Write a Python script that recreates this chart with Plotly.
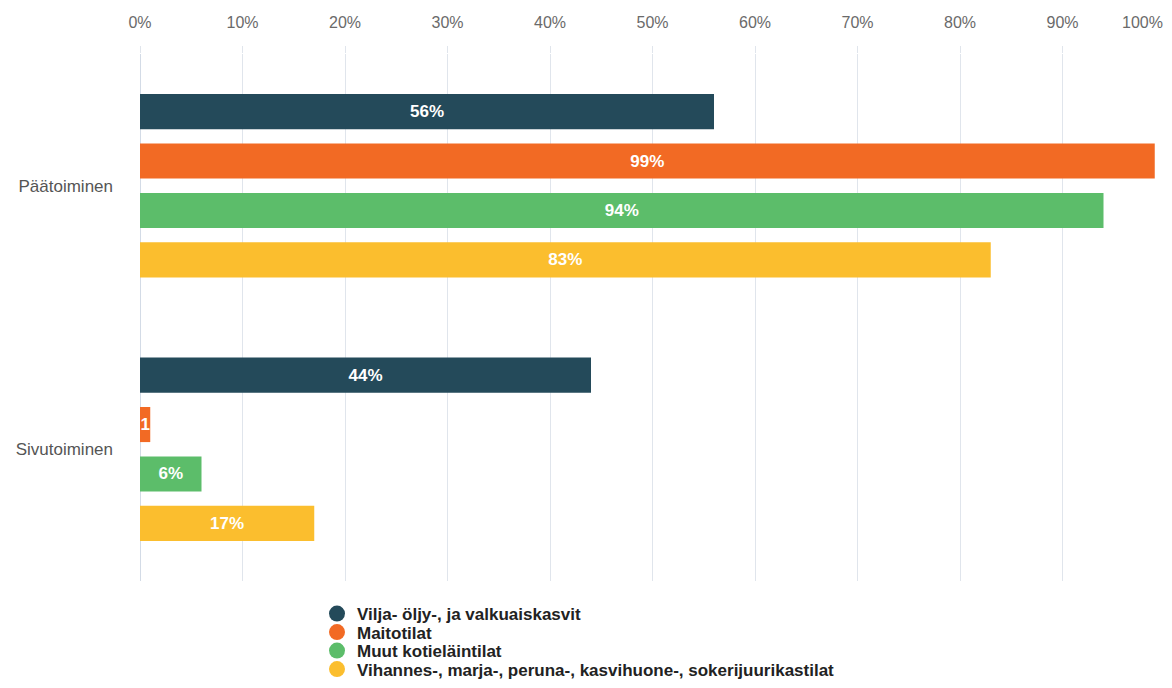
import plotly.graph_objects as go

categories = ["Päätoiminen", "Sivutoiminen"]
series_names = [
    "Vilja- öljy-, ja valkuaiskasvit",
    "Maitotilat",
    "Muut kotieläintilat",
    "Vihannes-, marja-, peruna-, kasvihuone-, sokerijuurikastilat",
]
values = [
    [56, 44],
    [99, 1],
    [94, 6],
    [83, 17],
]
colors = ["#244a5a", "#f26a24", "#5cbd6a", "#fbbe2e"]
tick_vals = [0, 10, 20, 30, 40, 50, 60, 70, 80, 90, 100]
tick_text = [f"{v}%" for v in tick_vals]

# page body adds an 8px offset; figure is sized to fit the window
W, H = 1164, 680
L, T = 132, 46
PW, PH = 1025, 527
PLOT_BOTTOM_IMG = 8 + T + PH  # 581

fig = go.Figure()
for name, vals, col in zip(series_names, values, colors):
    # the narrowest bar only has room for its number
    labels = [f"{v}%" if v >= 3 else f"{v}" for v in vals]
    fig.add_trace(go.Bar(
        y=categories, x=vals, orientation="h", name=name,
        marker=dict(color=col, line=dict(width=0)),
        text=labels, textposition="inside", textangle=0,
        insidetextanchor="middle", constraintext="none",
        textfont=dict(color="white", size=17, family="Liberation Sans", weight="bold"),
        showlegend=False, hoverinfo="skip",
    ))

legend_rows = [614, 632.5, 651, 669.5]
legend_layouts = {}
for i, (name, col, ypix) in enumerate(zip(series_names, colors, legend_rows)):
    key = "legend" if i == 0 else f"legend{i + 1}"
    fig.add_trace(go.Scatter(
        x=[None], y=[None], mode="markers", name=name,
        marker=dict(color=col, size=16, symbol="circle"),
        showlegend=True, legend=key,
    ))
    legend_layouts[key] = dict(
        x=(317 - 140) / PW, xanchor="left",
        y=(PLOT_BOTTOM_IMG - ypix) / PH, yanchor="middle",
        bgcolor="rgba(0,0,0,0)", borderwidth=0,
        font=dict(size=17, color="#222", family="Liberation Sans", weight="bold"),
        itemsizing="trace",
    )

fig.update_layout(
    width=W, height=H,
    margin=dict(l=L, r=W - L - PW, t=T, b=H - T - PH, autoexpand=False),
    paper_bgcolor="white", plot_bgcolor="white",
    barmode="group", bargap=0.25, bargroupgap=0.29,
    font=dict(family="Liberation Sans", size=16, color="#666"),
    xaxis=dict(
        side="top", range=[0, 100], tickvals=tick_vals,
        ticktext=tick_text[:-1] + [""],
        showgrid=True, gridcolor="#e0e5ec", gridwidth=1,
        zeroline=True, zerolinecolor="#d3dbe6", zerolinewidth=1,
        showline=False, ticks="outside", ticklen=7, tickcolor="#e0e5ec",
        tickfont=dict(size=16, color="#6a6a6a"),
        ticklabelstandoff=12, automargin=False,
    ),
    yaxis=dict(
        autorange="reversed", showgrid=False, zeroline=False, showline=False,
        ticks="", tickfont=dict(size=17, color="#555"), ticklabelstandoff=26,
        automargin=False,
    ),
    **legend_layouts,
)

fig.add_annotation(
    x=tick_vals[-1], xref="x", xanchor="right",
    y=1, yref="paper", yanchor="middle", yshift=32,
    text=tick_text[-1], showarrow=False,
    font=dict(size=16, color="#6a6a6a", family="Liberation Sans"),
)

fig.write_html("out.html")
